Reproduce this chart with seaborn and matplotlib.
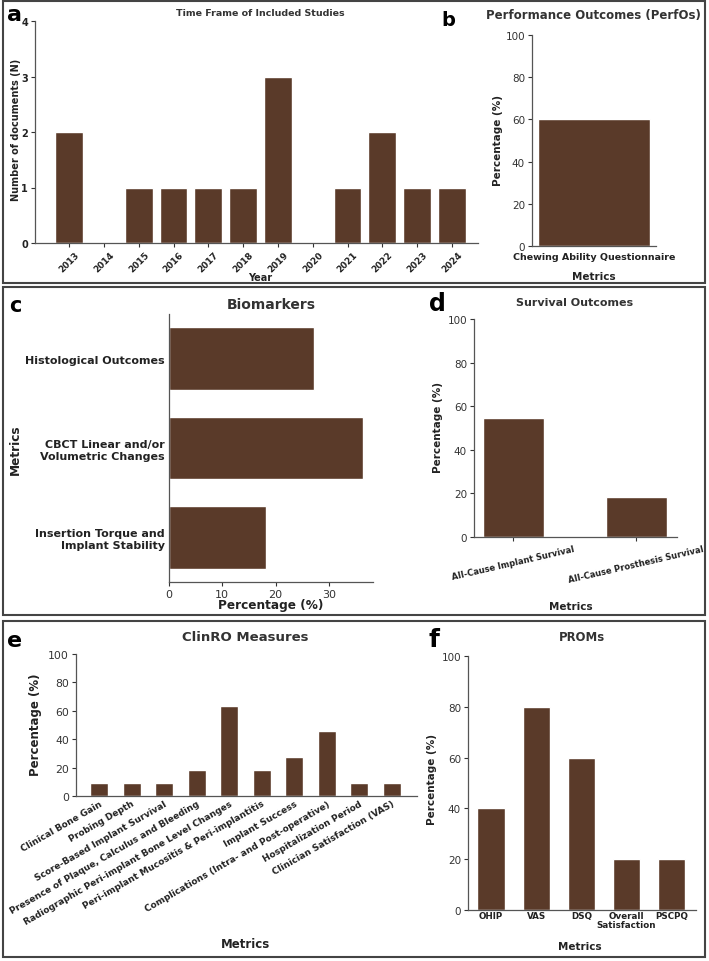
import seaborn as sns
import matplotlib.pyplot as plt
from matplotlib.patches import Rectangle

sns.set_theme(style="ticks")
plt.rcParams['font.family'] = ['DejaVu Sans']

BAR = "#5a3a29"
TXT = "#333333"
SPINE = "#555555"

# ---- data ----
years = ["2013", "2014", "2015", "2016", "2017", "2018",
         "2019", "2020", "2021", "2022", "2023", "2024"]
n_docs = [2, 0, 1, 1, 1, 1, 3, 0, 1, 2, 1, 1]

perfo_labels = ["Chewing Ability Questionnaire"]
perfo_pct = [60]

bio_labels = ["Histological Outcomes",
              "CBCT Linear and/or\nVolumetric Changes",
              "Insertion Torque and\nImplant Stability"]
bio_pct = [27.27, 36.36, 18.18]

surv_labels = ["All-Cause Implant Survival", "All-Cause Prosthesis Survival"]
surv_pct = [54.55, 18.18]

clinro_labels = ["Clinical Bone Gain", "Probing Depth",
                 "Score-Based Implant Survival",
                 "Presence of Plaque, Calculus and Bleeding",
                 "Radiographic Peri-implant Bone Level Changes",
                 "Peri-implant Mucositis & Peri-implantitis",
                 "Implant Success",
                 "Complications (Intra- and Post-operative)",
                 "Hospitalization Period",
                 "Clinician Satisfaction (VAS)"]
clinro_pct = [9.09, 9.09, 9.09, 18.18, 63.64, 18.18, 27.27, 45.45, 9.09, 9.09]

prom_labels = ["OHIP", "VAS", "DSQ", "Overall\nSatisfaction", "PSCPQ"]
prom_pct = [40, 80, 60, 20, 20]

W, H = 709, 962
fig = plt.figure(figsize=(W / 100, H / 100), dpi=100)


def px_axes(box):
    l, t, r, b = box
    return fig.add_axes([l / W, 1 - b / H, (r - l) / W, (b - t) / H])


def style(ax, box, title, title_xy, tsize, xl, xl_xy, yl, yl_xy, lsize, ticksize):
    l, t, r, b = box
    sns.despine(ax=ax)
    for s in ("left", "bottom"):
        ax.spines[s].set_color(SPINE)
        ax.spines[s].set_linewidth(0.9)
    ax.tick_params(colors=TXT, labelsize=ticksize, length=3, width=0.8, pad=2)
    fig.text(title_xy[0] / W, 1 - title_xy[1] / H, title, ha="center", va="center",
             fontsize=tsize, fontweight="bold", color=TXT)
    ax.set_xlabel(xl, fontsize=lsize, fontweight="bold", color="#222222")
    ax.set_ylabel(yl, fontsize=lsize, fontweight="bold", color="#222222")
    ax.xaxis.set_label_coords((xl_xy[0] - l) / (r - l), (b - xl_xy[1]) / (b - t))
    ax.yaxis.set_label_coords((yl_xy[0] - l) / (r - l), (b - yl_xy[1]) / (b - t))
    ax.xaxis.label.set_va("center")
    ax.yaxis.label.set_va("center")


# ---- a: time frame ----
box_a = (35, 22, 478, 244)
ax = px_axes(box_a)
sns.barplot(x=years, y=n_docs, color=BAR, saturation=1, width=0.8, ax=ax)
ax.set_xlim(-0.98, 11.75)
ax.set_ylim(0, 4)
ax.set_yticks([0, 1, 2, 3, 4])
style(ax, box_a, "Time Frame of Included Studies", (260, 14), 6.8,
      "Year", (260, 278), "Number of documents (N)", (16, 130), 7, 7)
for lab in ax.get_xticklabels():
    lab.set_rotation(45)
    lab.set_fontweight("bold")
    lab.set_fontsize(6.4)
    lab.set_color("#222222")
for lab in ax.get_yticklabels():
    lab.set_fontweight("bold")
    lab.set_color("#222222")

# ---- b: performance outcomes ----
box_b = (532, 36, 656, 247)
ax = px_axes(box_b)
sns.barplot(x=perfo_labels, y=perfo_pct, color=BAR, saturation=1, width=0.8, ax=ax)
ax.set_xlim(-0.443, 0.443)
ax.set_ylim(0, 100)
style(ax, box_b, "Performance Outcomes (PerfOs)", (593, 16), 8.5,
      "Metrics", (594, 277), "Percentage (%)", (498, 141), 7.5, 7.5)
ax.tick_params(axis="x", length=0, pad=4)
for lab in ax.get_xticklabels():
    lab.set_fontweight("bold")
    lab.set_fontsize(6.8)
    lab.set_color("#222222")

# ---- c: biomarkers ----
box_c = (169, 315, 373, 583)
ax = px_axes(box_c)
sns.barplot(x=bio_pct, y=bio_labels, orient="h", color=BAR, saturation=1,
            width=0.7, ax=ax)
ax.set_xlim(0, 38.3)
ax.set_ylim(2.5, -0.5)
ax.set_xticks([0, 10, 20, 30])
style(ax, box_c, "Biomarkers", (271, 305), 10,
      "Percentage (%)", (271, 606), "Metrics", (15, 450), 8.7, 8)
ax.tick_params(axis="y", length=0, pad=3)
for lab in ax.get_yticklabels():
    lab.set_fontweight("bold")
    lab.set_fontsize(8)
    lab.set_color("#222222")

# ---- d: survival outcomes ----
box_d = (474, 320, 677, 538)
ax = px_axes(box_d)
sns.barplot(x=surv_labels, y=surv_pct, color=BAR, saturation=1, width=0.5, ax=ax)
ax.set_xlim(-0.32, 1.33)
ax.set_ylim(0, 100)
style(ax, box_d, "Survival Outcomes", (575, 303), 8,
      "Metrics", (571, 607), "Percentage (%)", (438, 428), 7.5, 7.5)
for lab in ax.get_xticklabels():
    lab.set_rotation(13)
    lab.set_ha("center")
    lab.set_fontweight("bold")
    lab.set_fontsize(6)
    lab.set_color("#222222")

# ---- e: ClinRO ----
box_e = (76, 655, 417, 797)
ax = px_axes(box_e)
sns.barplot(x=clinro_labels, y=clinro_pct, color=BAR, saturation=1, width=0.55, ax=ax)
ax.set_xlim(-0.71, 9.78)
ax.set_ylim(0, 100)
style(ax, box_e, "ClinRO Measures", (245, 638), 9.5,
      "Metrics", (245, 945), "Percentage (%)", (35, 725), 8.5, 7.8)
ax.tick_params(axis="x", length=0)
for lab in ax.get_xticklabels():
    lab.set_rotation(30)
    lab.set_ha("right")
    lab.set_rotation_mode("anchor")
    lab.set_fontweight("bold")
    lab.set_fontsize(6.5)
    lab.set_color("#222222")

# ---- f: PROMs ----
box_f = (468, 657, 696, 911)
ax = px_axes(box_f)
sns.barplot(x=prom_labels, y=prom_pct, color=BAR, saturation=1, width=0.6, ax=ax)
ax.set_xlim(-0.51, 4.54)
ax.set_ylim(0, 100)
style(ax, box_f, "PROMs", (582, 638), 8.4,
      "Metrics", (580, 947), "Percentage (%)", (432, 780), 7.5, 7.5)
ax.tick_params(axis="x", length=0, pad=1)
for lab in ax.get_xticklabels():
    lab.set_fontweight("bold")
    lab.set_fontsize(6.3)
    lab.set_color("#222222")
    lab.set_linespacing(1.0)

# ---- panel frames and letters ----
for (x0, y0, x1, y1) in [(3, 2, 705, 284), (3, 288, 705, 616), (3, 622, 705, 958)]:
    fig.patches.append(Rectangle((x0 / W, 1 - y1 / H), (x1 - x0) / W, (y1 - y0) / H,
                                 transform=fig.transFigure, fill=False,
                                 edgecolor="#444444", linewidth=1.5))

for letter, (x, y), size in [("a", (14, 15), 16), ("b", (448, 20), 14),
                             ("c", (15, 306), 15), ("d", (437, 304), 17),
                             ("e", (15, 641), 16), ("f", (434, 640), 18)]:
    fig.text(x / W, 1 - y / H, letter, ha="center", va="center",
             fontsize=size, fontweight="bold", color="black")

fig.savefig("out.png", dpi=100)
